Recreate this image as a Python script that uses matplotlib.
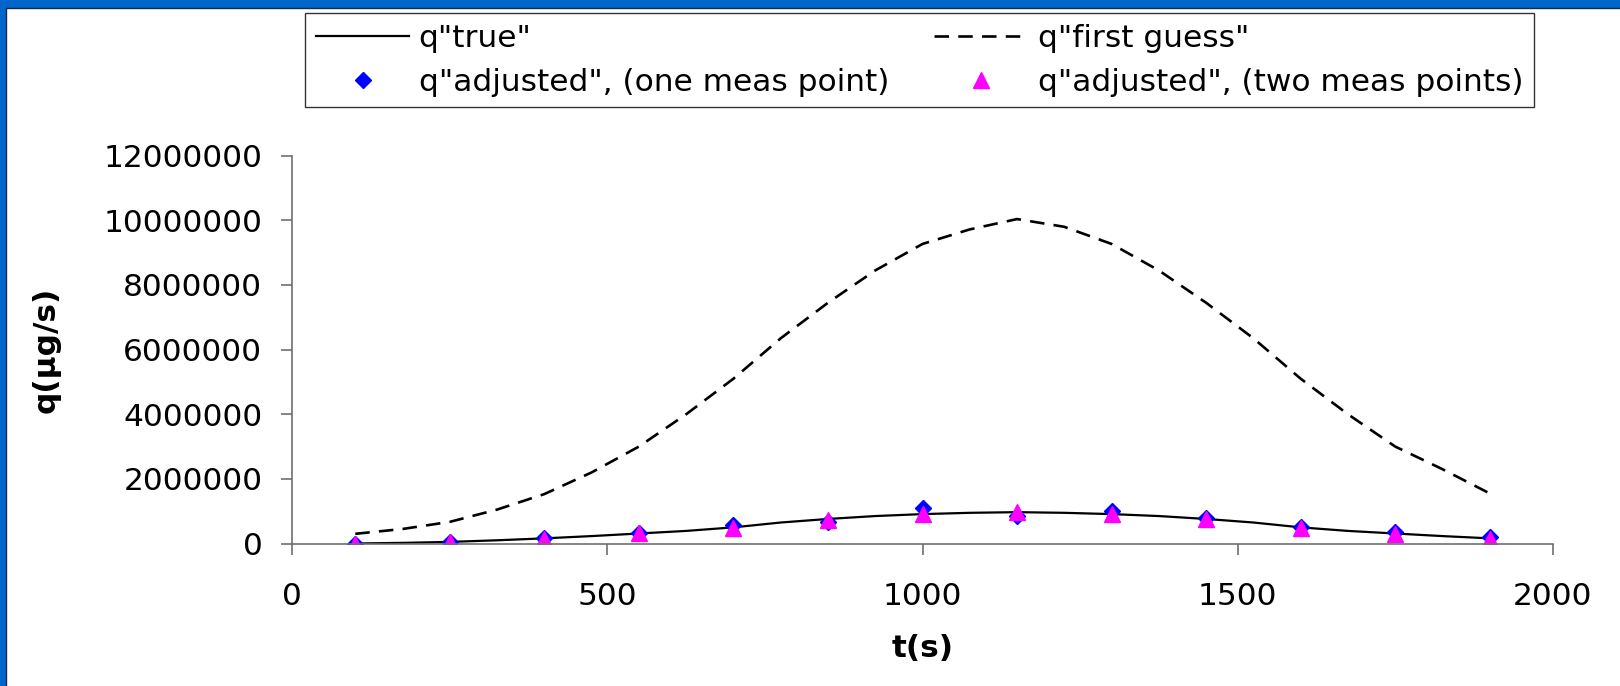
import matplotlib
matplotlib.use("Agg")
import matplotlib.pyplot as plt
from matplotlib.patches import Rectangle
from matplotlib.lines import Line2D
from matplotlib.ticker import FuncFormatter

plt.rcParams["font.family"] = ["DejaVu Sans"]

# Curves (sampled every 75 s)
t_curve = [100, 175, 250, 325, 400, 475, 550, 625, 700, 775, 850, 925, 1000,
           1075, 1150, 1225, 1300, 1375, 1450, 1525, 1600, 1675, 1750, 1825, 1900]
q_true = [0, 20000, 50000, 100000, 160000, 230000, 310000, 390000, 500000,
          650000, 760000, 850000, 910000, 950000, 970000, 950000, 910000,
          850000, 760000, 650000, 500000, 390000, 310000, 230000, 160000]
q_first = [300000, 450000, 670000, 1050000, 1530000, 2200000, 3000000, 4000000,
           5100000, 6350000, 7450000, 8450000, 9270000, 9720000, 10040000,
           9800000, 9270000, 8450000, 7450000, 6350000, 5100000, 4000000,
           3000000, 2300000, 1550000]

# Adjusted estimates (every 150 s)
t_meas = [100, 250, 400, 550, 700, 850, 1000, 1150, 1300, 1450, 1600, 1750, 1900]
q_one = [0, 50000, 160000, 320000, 560000, 660000, 1100000, 860000, 1000000,
         780000, 520000, 350000, 190000]
q_two = [0, 50000, 150000, 310000, 470000, 740000, 910000, 970000, 910000,
         750000, 470000, 290000, 150000]

FS = 22.5

fig = plt.figure(figsize=(16.2, 6.86), dpi=100)

# slide frame: blue strip top and left, with a dark inner edge
fig.patches.append(Rectangle((0, 1 - 7 / 686), 1, 7 / 686, transform=fig.transFigure,
                             color="#0066CC", zorder=0))
fig.patches.append(Rectangle((0, 0), 5 / 1620, 1, transform=fig.transFigure,
                             color="#0066CC", zorder=0))
fig.lines.append(Line2D([5.5 / 1620, 1], [1 - 7.5 / 686, 1 - 7.5 / 686],
                        transform=fig.transFigure, color="#1a2a40", lw=1))
fig.lines.append(Line2D([5.5 / 1620, 5.5 / 1620], [0, 1 - 7.5 / 686],
                        transform=fig.transFigure, color="#1a2a40", lw=1))

ax = fig.add_axes([0.1804, 0.2077, 0.7781, 0.5653])

h_true, = ax.plot(t_curve, q_true, color="black", lw=1.6, label='q"true"')
h_first, = ax.plot(t_curve, q_first, color="black", lw=1.9, dashes=(5.5, 3.5),
                   label='q"first guess"')
h_one, = ax.plot(t_meas, q_one, ls="none", marker="D", ms=8.5, color="#0000FF",
                 label='q"adjusted", (one meas point)')
h_two, = ax.plot(t_meas, q_two, ls="none", marker="^", ms=11, color="#FF00FF",
                 label='q"adjusted", (two meas points)')

ax.set_xlim(0, 2000)
ax.set_ylim(0, 12000000)
ax.set_xticks([0, 500, 1000, 1500, 2000])
ax.set_yticks(range(0, 12000001, 2000000))
ax.yaxis.set_major_formatter(FuncFormatter(lambda v, p: "%d" % v))

for s in ["top", "right"]:
    ax.spines[s].set_visible(False)
for s in ["left", "bottom"]:
    ax.spines[s].set_color("#707070")
    ax.spines[s].set_linewidth(1.2)

ax.tick_params(axis="both", direction="out", length=8, width=1.2, color="#707070",
               labelsize=FS)
ax.tick_params(axis="y", pad=13.5)
ax.tick_params(axis="x", pad=20)

ax.set_xlabel("t(s)", fontsize=FS, fontweight="bold", va="center")
ax.xaxis.set_label_coords(0.5, -0.27)
ax.set_ylabel("q(µg/s)", fontsize=FS, fontweight="bold", va="center")
ax.yaxis.set_label_coords(-0.1955, 0.5)

handles = [h_true, h_one, h_first, h_two]
leg = fig.legend(handles, [h.get_label() for h in handles],
                 loc="upper left", bbox_to_anchor=(305 / 1620, 1 - 13 / 686),
                 ncol=2, fontsize=FS, frameon=True, fancybox=False,
                 handlelength=3.0, handletextpad=0.3, columnspacing=1.45,
                 borderpad=0.34, labelspacing=0.48, borderaxespad=0)
leg.get_frame().set_edgecolor("black")
leg.get_frame().set_linewidth(1.0)

fig.savefig("out.png", dpi=100)
